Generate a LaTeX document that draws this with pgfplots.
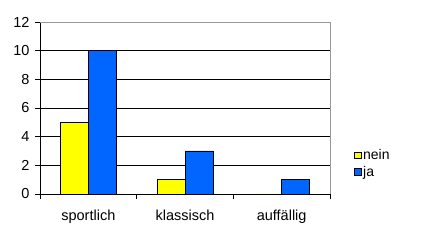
\documentclass[border=0pt]{standalone}
\usepackage{pgfplots}
\pgfplotsset{compat=1.18}
\usepackage{fontspec}
\setmainfont{Liberation Sans}
\definecolor{barY}{HTML}{FFFF00}
\definecolor{barB}{HTML}{0066FF}
\begin{document}
\begin{tikzpicture}
\useasboundingbox (0,0) rectangle (423bp,240bp);
\begin{axis}[
  at={(40bp,46bp)}, anchor=south west,
  scale only axis, width=290bp, height=172bp,
  xmin=-0.5, xmax=2.5, ymin=0, ymax=12,
  ytick={0,2,...,12},
  xtick={0,1,2},
  xticklabels={sportlich,klassisch,auffällig},
  minor xtick={-0.5,0.5,1.5,2.5},
  tick align=outside, tick pos=lower,
  major tick length=5bp, minor tick length=5bp,
  major x tick style={draw=none},
  ymajorgrids, grid style={black, line width=0.8pt},
  axis x line*=bottom, axis y line*=left,
  axis line style={black, line width=0.8pt, -},
  tick style={black, line width=0.8pt},
  /pgf/number format/assume math mode=true,
  ybar, bar width=28bp,
  ticklabel style={font=\fontsize{14.5bp}{16bp}\selectfont},
  xticklabel style={yshift=-7bp},
  yticklabel style={xshift=-2bp},
  legend style={at={(1.072,0.282)}, anchor=north west, draw=none, fill=none,
    font=\fontsize{14bp}{16bp}\selectfont, row sep=1bp,
    /tikz/every even column/.append style={column sep=1bp}},
  legend cell align=left,
  legend image code/.code={\draw[#1, line width=0.6pt] (0bp,-3bp) rectangle (6.5bp,3.5bp);},
  after end axis/.code={\draw[gray!80, line width=0.8pt] (rel axis cs:0,1) -- (rel axis cs:1,1) -- (rel axis cs:1,0);},
]
\addplot[fill=barY, draw=black, line width=0.6pt, bar shift=-14bp] coordinates {(0,5) (1,1) (2,0)};
\addplot[fill=barB, draw=black, line width=0.6pt, bar shift=14bp] coordinates {(0,10) (1,3) (2,1)};
\legend{nein,ja}
\end{axis}
\end{tikzpicture}
\end{document}
